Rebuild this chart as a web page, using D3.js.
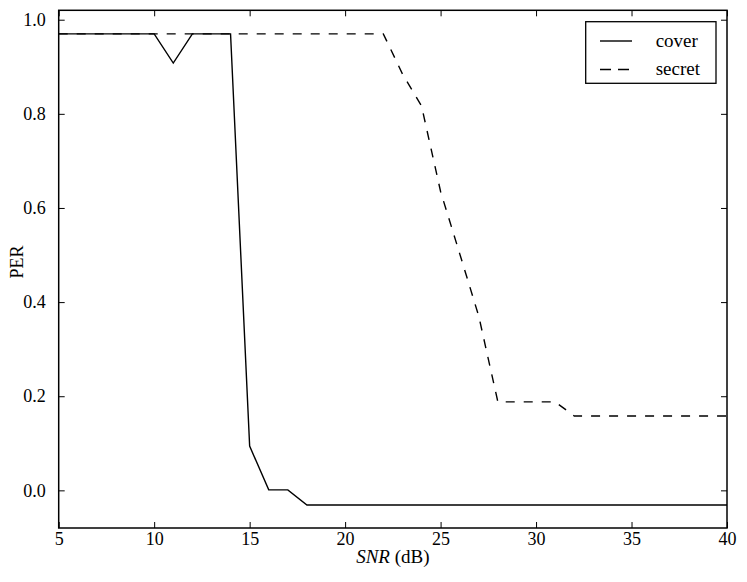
<!DOCTYPE html>
<html><head><meta charset="utf-8">
<script src="https://cdn.jsdelivr.net/npm/d3@7"></script>
<style>body{margin:0;background:#fff}svg{display:block}</style>
</head><body>
<svg id="c" width="747" height="582"></svg>
<script>
const snr = [5,6,7,8,9,10,11,12,13,14,15,16,17,18,19,20,21,22,23,24,25,26,27,28,29,30,31,32,33,34,35,36,37,38,39,40];
const cover = [0.97,0.97,0.97,0.97,0.97,0.97,0.908,0.97,0.97,0.97,0.094,0.001,0.001,-0.031,-0.031,-0.031,-0.031,-0.031,-0.031,-0.031,-0.031,-0.031,-0.031,-0.031,-0.031,-0.031,-0.031,-0.031,-0.031,-0.031,-0.031,-0.031,-0.031,-0.031,-0.031,-0.031];
const secret = [0.97,0.97,0.97,0.97,0.97,0.97,0.97,0.97,0.97,0.97,0.97,0.97,0.97,0.97,0.97,0.97,0.97,0.97,0.885,0.817,0.635,0.503,0.37,0.188,0.188,0.188,0.188,0.158,0.158,0.158,0.158,0.158,0.158,0.158,0.158,0.158];
const xTicks = [5,10,15,20,25,30,35,40];
const yTicks = [0.0,0.2,0.4,0.6,0.8,1.0];
const seriesNames = ["cover","secret"];

const FONT = "'Liberation Serif'";
const svg = d3.select("#c");
const L=58.7, R=727, T=10.3, B=528;
const x = d3.scaleLinear().domain([5,40]).range([L,R]);
const y = d3.scaleLinear().domain([-0.08,1.02]).range([B,T]);

const g = svg.append("g");
const line = d3.line().x((d,i)=>x(snr[i])).y(d=>y(d));
g.append("path").datum(cover).attr("d",line).attr("fill","none").attr("stroke","#000").attr("stroke-width",1.4);
g.append("path").datum(secret).attr("d",line).attr("fill","none").attr("stroke","#000").attr("stroke-width",1.4).attr("stroke-dasharray","9,9");

g.append("rect").attr("x",L).attr("y",T).attr("width",R-L).attr("height",B-T).attr("fill","none").attr("stroke","#000").attr("stroke-width",1.5);

const tl = 6;
const xa = d3.axisBottom(x).tickValues(xTicks).tickSizeInner(-tl).tickSizeOuter(0).tickPadding(4).tickFormat(d3.format("d"));
const gx = svg.append("g").attr("transform",`translate(0,${B})`).call(xa);
gx.attr("font-family",null).attr("font-size",null);
gx.select(".domain").remove();
gx.selectAll("text").style("font-family",FONT).style("font-size","18px").attr("fill","#000");
const xt = d3.axisTop(x).tickValues(xTicks).tickSizeInner(-tl).tickSizeOuter(0).tickFormat("");
svg.append("g").attr("transform",`translate(0,${T})`).call(xt).select(".domain").remove();

const ya = d3.axisLeft(y).tickValues(yTicks).tickSizeInner(-tl).tickSizeOuter(0).tickPadding(13).tickFormat(d3.format(".1f"));
const gy = svg.append("g").attr("transform",`translate(${L},0)`).call(ya);
gy.attr("font-family",null).attr("font-size",null);
gy.select(".domain").remove();
gy.selectAll("text").style("font-family",FONT).style("font-size","18px").attr("fill","#000");
const yr = d3.axisRight(y).tickValues(yTicks).tickSizeInner(-tl).tickSizeOuter(0).tickFormat("");
svg.append("g").attr("transform",`translate(${R},0)`).call(yr).select(".domain").remove();
svg.selectAll(".tick line").attr("stroke","#000").attr("stroke-width",1);

const xl = svg.append("text").attr("x",(L+R)/2).attr("y",563).attr("text-anchor","middle").style("font-family",FONT).style("font-size","19px");
xl.append("tspan").attr("font-style","italic").text("SNR");
xl.append("tspan").text(" (dB)");
svg.append("text").attr("transform",`translate(23,262) rotate(-90)`).attr("text-anchor","middle").style("font-family",FONT).style("font-size","18px").text("PER");

const lg = svg.append("g");
lg.append("rect").attr("x",585.7).attr("y",21.7).attr("width",130.3).attr("height",61.6).attr("fill","#fff").attr("stroke","#000").attr("stroke-width",1.3);
const dashes = [null,"11,7"];
seriesNames.forEach((n,i)=>{
  const yy = 41 + i*28.5;
  lg.append("line").attr("x1",600).attr("x2",632).attr("y1",yy).attr("y2",yy).attr("stroke","#000").attr("stroke-width",1.4).attr("stroke-dasharray",dashes[i]);
  lg.append("text").attr("x",655.7).attr("y",yy+5.5).style("font-family",FONT).style("font-size","19px").text(n);
});
</script>
</body></html>
